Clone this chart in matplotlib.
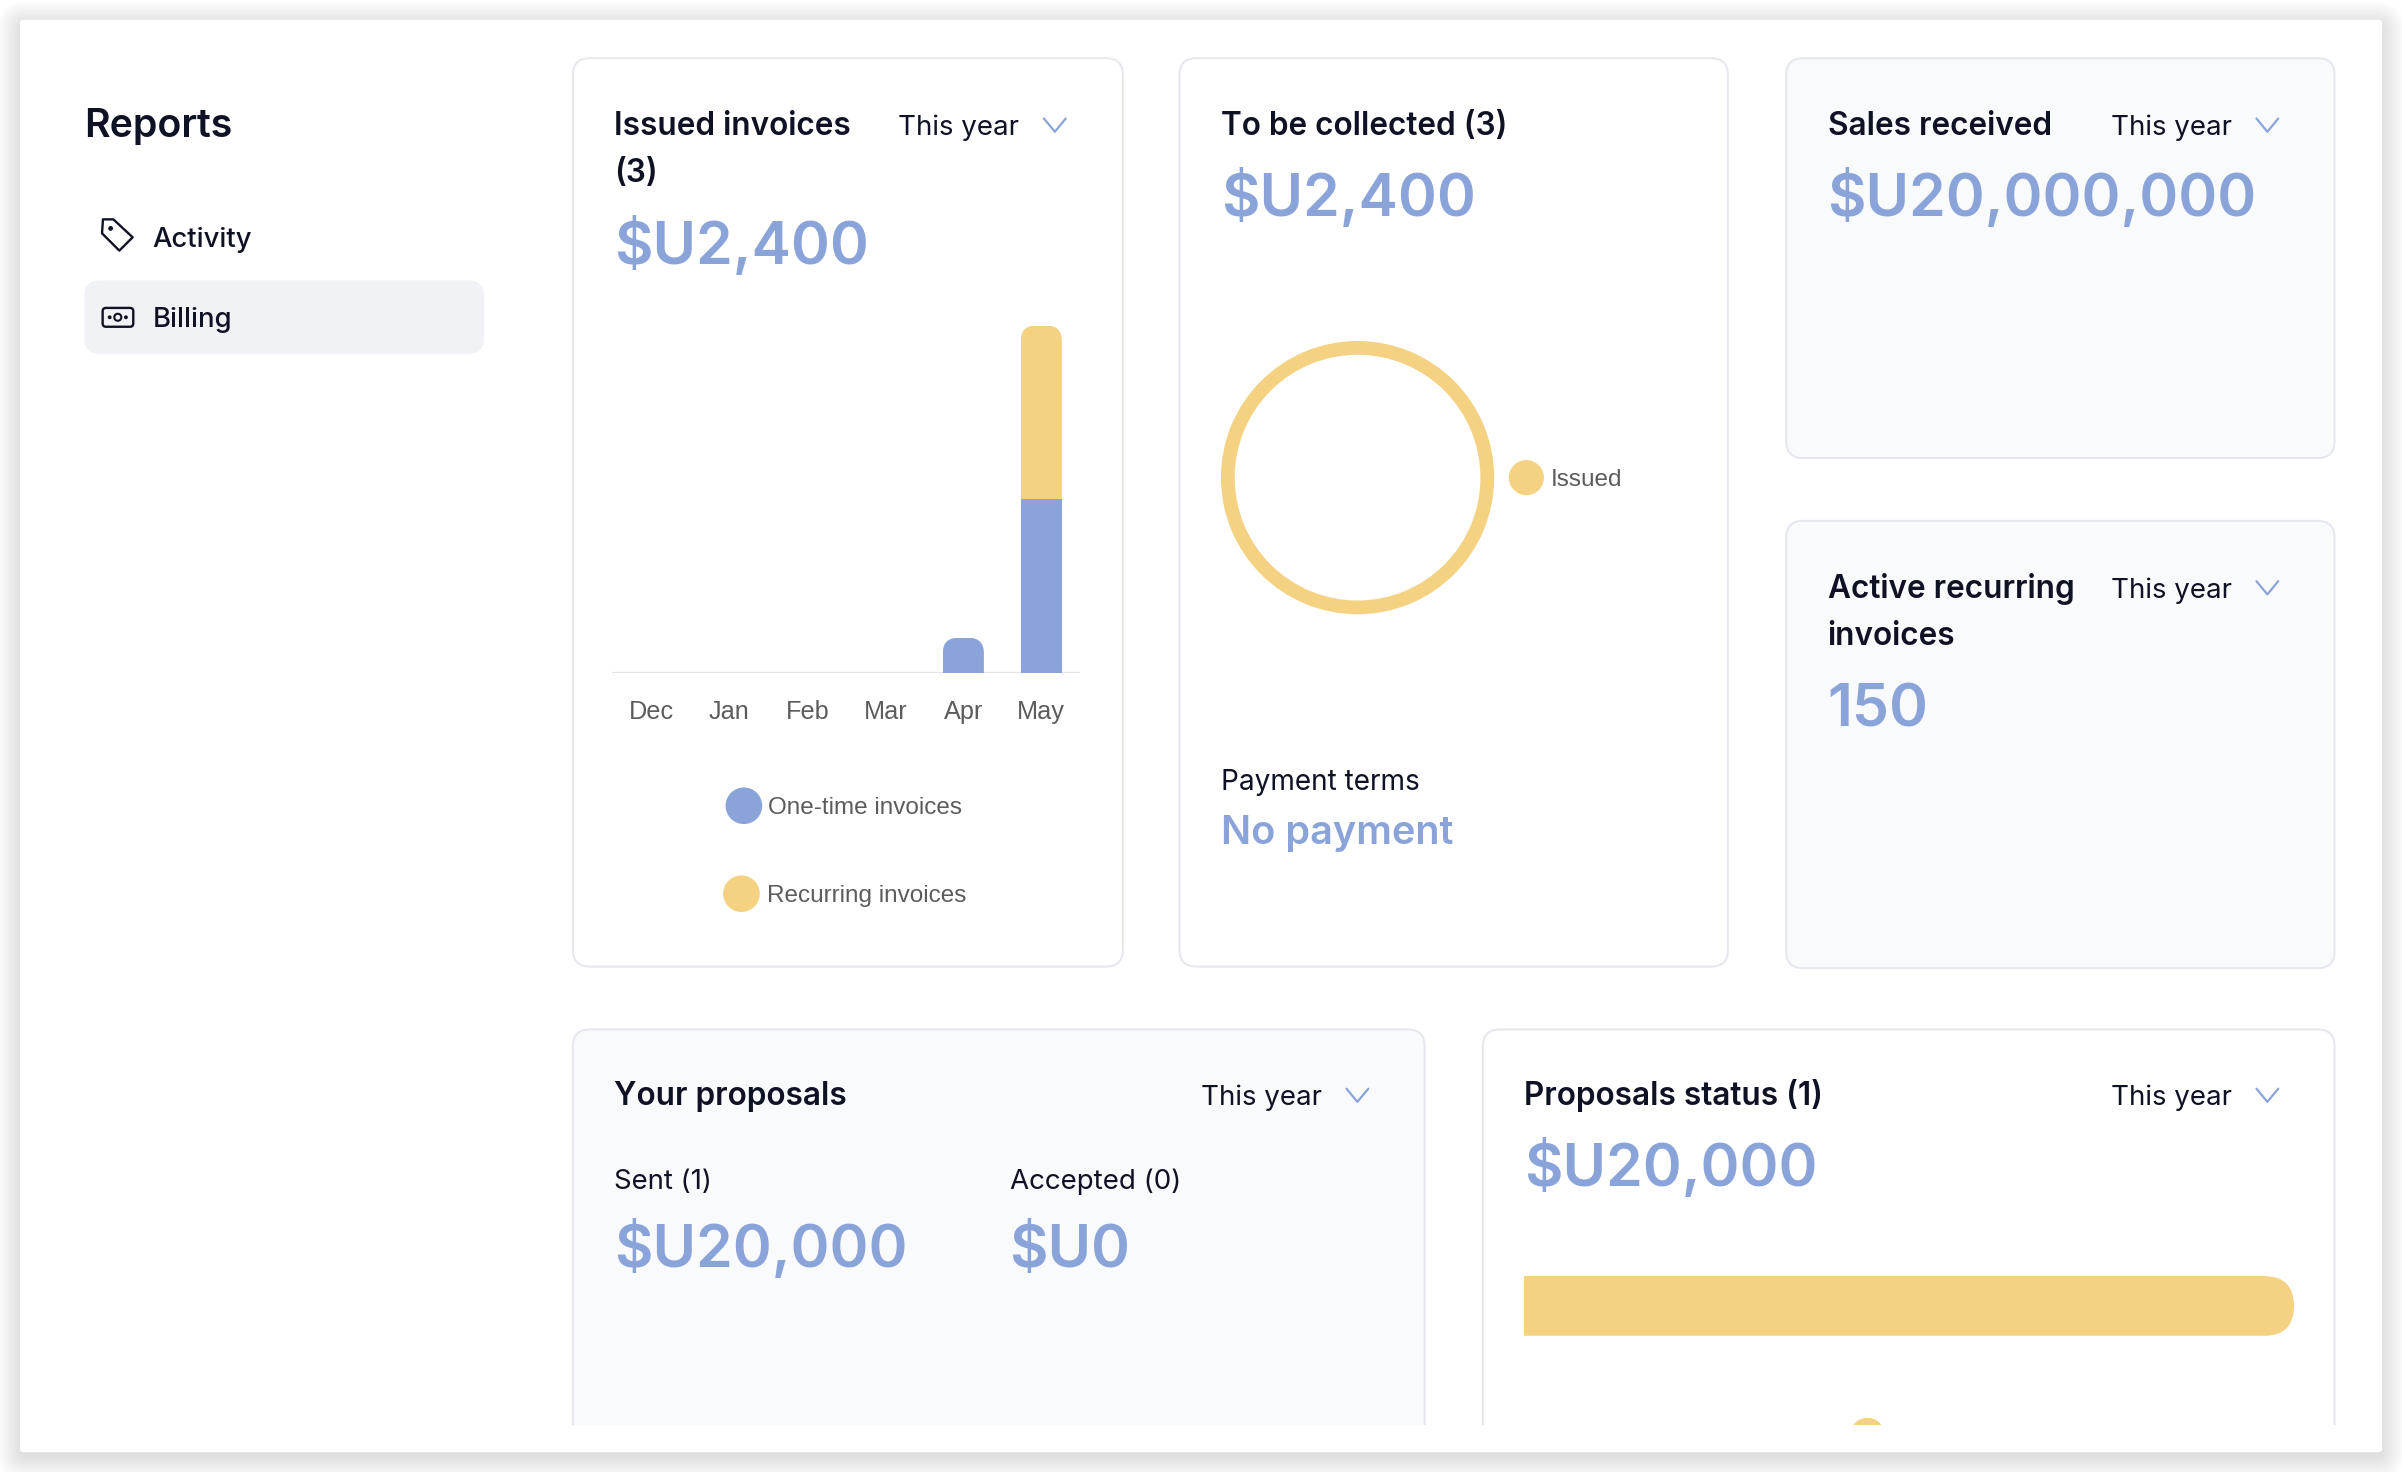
import numpy as np
import matplotlib
matplotlib.use("Agg")
import matplotlib.pyplot as plt
from matplotlib.patches import FancyBboxPatch, Rectangle, Circle, Polygon

# chart data
months = ["Dec", "Jan", "Feb", "Mar", "Apr", "May"]
one_time = [0, 0, 0, 0, 220, 1090]
recurring = [0, 0, 0, 0, 0, 1090]
bar_legend = ["One-time invoices", "Recurring invoices"]

collect_labels = ["Issued"]
collect_values = [3]

status_labels = ["Sent"]
status_values = [20000]

BLUE = "#8aa4da"
YELLOW = "#f4d282"
DARK = "#0f1124"
GREY = "#5c5c5c"
LINE = "#e6e7ee"
SOFT = "#f9fafc"

# layout is worked out on a 1568 wide grid, scaled to the 2402 px output
W = 1568.0
S = 2402 / W
H = 1472 / S

fig = plt.figure(figsize=(24.02, 14.72), dpi=100)
fig.patch.set_facecolor("white")
bg = fig.add_axes([0, 0, 1, 1])
bg.set_xlim(0, W)
bg.set_ylim(H, 0)
bg.axis("off")
renderer = fig.canvas.get_renderer()


def frac(x0, y0, x1, y1):
    return [x0 / W, 1 - y1 / H, (x1 - x0) / W, (y1 - y0) / H]


def box(x0, y0, x1, y1, r, fc, ec="none", lw=0, z=1, clip=None):
    p = FancyBboxPatch((x0, y0), x1 - x0, y1 - y0,
                       boxstyle=f"round,pad=0,rounding_size={r}",
                       fc=fc, ec=ec, lw=lw, zorder=z)
    bg.add_patch(p)
    if clip is not None:
        p.set_clip_path(clip)
    return p


def put(x, y, s, w=None, weight="normal", color=DARK, family="Inter", size=20):
    t = bg.text(x, y, s, fontsize=size, fontweight=weight, color=color,
                family=family, ha="left", va="baseline", zorder=5)
    if w:
        bw = t.get_window_extent(renderer).width
        t.set_fontsize(size * w * S / bw)
    return t


def chev(x, yc):
    bg.plot([x, x + 7.1, x + 14.2], [yc - 4.3, yc + 4.3, yc - 4.3], color=BLUE,
            lw=1.6, solid_capstyle="round", solid_joinstyle="round", zorder=5)


# page shadow and main sheet
for k in range(16):
    box(13 - k, 13 - k + 3, 1555 + k, 948 + k + 3, 4 + k, (0, 0, 0, 0.006), z=0)
box(13, 13, 1555, 948, 2, "white", z=0.5)

bottom_clip = Rectangle((0, 0), W, 930, transform=bg.transData)

cards = [(374, 38, 733, 631, "white"), (770, 38, 1128, 631, "white"),
         (1166, 38, 1524, 299, SOFT), (1166, 340, 1524, 632, SOFT),
         (374, 672, 930, 990, SOFT), (968, 672, 1524, 990, "white")]
for x0, y0, x1, y1, fc in cards:
    box(x0, y0, x1, y1, 11, fc, ec=LINE, lw=1.4, z=1,
        clip=bottom_clip if y0 > 600 else None)

# sidebar
box(55, 183, 316, 231, 10, "#f1f2f6")
put(55, 89.3, "Reports", 97, weight="semibold")
side = put(99.6, 161.3, "Activity", 65, weight="medium")
put(99.6, 213.4, "Billing", size=side.get_fontsize(), weight="medium")
tag = Polygon([(67.2, 143.2), (74.0, 143.2), (86.6, 154.9), (77.9, 163.6), (66.6, 152.3)],
              closed=True, fill=False, ec=DARK, lw=1.7, joinstyle="round", zorder=5)
bg.add_patch(tag)
bg.add_patch(Circle((72.2, 149.1), 1.1, color=DARK, zorder=5))
box(67, 201, 87, 213.3, 2.2, "none", ec=DARK, lw=1.7, z=5)
bg.add_patch(Circle((76.9, 207.1), 2.3, fill=False, ec=DARK, lw=1.5, zorder=5))
bg.add_patch(Circle((71.6, 207.1), 0.8, color=DARK, zorder=5))
bg.add_patch(Circle((82.2, 207.1), 0.8, color=DARK, zorder=5))

# card 1: issued invoices
t1 = put(401, 88.4, "Issued invoices", 155, weight="semibold")
TS = t1.get_fontsize()
put(401, 118.5, "(3)", size=TS, weight="semibold")
ty = put(586.5, 88.4, "This year", 79)
YS = ty.get_fontsize()
chev(681.5, 81.7)
big = put(401, 172.3, "$U2,400", 166, weight="semibold", color=BLUE)
BS = big.get_fontsize()

cax = fig.add_axes(frac(399.8, 200, 705.2, 439.2))
tmax = max(a + b for a, b in zip(one_time, recurring))
cax.set_ylim(0, tmax * (439.2 - 200) / (439.2 - 212.5))
cax.set_xlim(-0.5, len(months) - 0.5)
cax.patch.set_alpha(0)
for sp in cax.spines.values():
    sp.set_visible(False)
cax.set_yticks([])
xs = np.arange(len(months))
bw = 0.527
b1 = cax.bar(xs, one_time, bw, color=BLUE, zorder=2)
b2 = cax.bar(xs, recurring, bw, bottom=one_time, color=YELLOW, zorder=2)
cax.axhline(0, color="#e3e4e8", lw=1.7, zorder=1)
ext = cax.get_window_extent(renderer)
ppx = ext.width / (len(months))
ppy = ext.height / cax.get_ylim()[1]
r = 10 * S
for i in xs:
    seg = b2[i] if recurring[i] > 0 else b1[i]
    if seg.get_height() <= 0:
        continue
    ry = r / ppy
    clip = FancyBboxPatch((seg.get_x(), seg.get_y() - ry), bw, seg.get_height() + ry,
                          boxstyle=f"round,pad=0,rounding_size={r / ppx}",
                          mutation_aspect=ppx / ppy, transform=cax.transData)
    seg.set_clip_path(clip)

leg1 = put(501.5, 531.5, bar_legend[0], 126.5, family="Liberation Sans", color=GREY)
LS = leg1.get_fontsize()
put(500.7, 589, bar_legend[1], size=LS, family="Liberation Sans", color=GREY)
bg.add_patch(Circle((485.6, 526), 11.5, color=BLUE, zorder=5))
bg.add_patch(Circle((484, 583.4), 11.5, color=YELLOW, zorder=5))

em = LS * 100 / 72 / S
pad = (468.3 - 0.73 * em - 439.2) * S * 0.72
cax.set_xticks(xs, months, fontfamily="Liberation Sans")
cax.tick_params(axis="x", length=0, pad=pad, labelsize=LS * 1.04, labelcolor=GREY)

# card 2: to be collected
put(797, 88.4, "To be collected (3)", size=TS, weight="semibold")
put(797, 141, "$U2,400", size=BS, weight="semibold", color=BLUE)
dax = fig.add_axes(frac(886.2 - 89.2, 311.8 - 89.2, 886.2 + 89.2, 311.8 + 89.2))
dax.pie(collect_values, colors=[YELLOW], radius=1, startangle=90,
        wedgeprops=dict(width=9 / 89.2, linewidth=0))
dax.set_xlim(-1, 1)
dax.set_ylim(-1, 1)
bg.add_patch(Circle((996.4, 311.8), 11.0, color=YELLOW, zorder=5))
put(1012.2, 317.4, collect_labels[0], size=LS, family="Liberation Sans", color=GREY)
put(797, 516, "Payment terms", 130)
put(797, 551, "No payment", 152, weight="semibold", color=BLUE)

# card 3: sales received
put(1193, 88.4, "Sales received", size=TS, weight="semibold")
put(1378, 88.4, "This year", size=YS)
chev(1473, 81.7)
put(1193, 141, "$U20,000,000", size=BS, weight="semibold", color=BLUE)

# card 4: active recurring invoices
put(1193, 390.4, "Active recurring", size=TS, weight="semibold")
put(1193, 421, "invoices", size=TS, weight="semibold")
put(1378, 390.4, "This year", size=YS)
chev(1473, 383.7)
put(1193, 474, "150", size=BS, weight="semibold", color=BLUE)

# card 5: your proposals
put(401, 721.4, "Your proposals", size=TS, weight="semibold")
put(784, 721.4, "This year", size=YS)
chev(879, 715)
put(401, 776, "Sent (1)", 64)
put(659, 776, "Accepted (0)", 112)
put(401, 827, "$U20,000", size=BS, weight="semibold", color=BLUE)
put(659, 827, "$U0", size=BS, weight="semibold", color=BLUE)

# card 6: proposals status
put(995, 721.4, "Proposals status (1)", size=TS, weight="semibold")
put(1378, 721.4, "This year", size=YS)
chev(1473, 715)
put(995, 774, "$U20,000", size=BS, weight="semibold", color=BLUE)

sax = fig.add_axes(frac(995, 833, 1497.5, 872))
sax.axis("off")
sbar = sax.barh([0], status_values, height=1, color=YELLOW)
sax.set_xlim(0, max(status_values))
sax.set_ylim(-0.5, 0.5)
sext = sax.get_window_extent(renderer)
sppx = sext.width / max(status_values)
sppy = sext.height
rr = 19.5 * S
for p in sbar:
    rx = rr / sppx
    clip = FancyBboxPatch((p.get_x() - rx, p.get_y()), p.get_width() + rx, p.get_height(),
                          boxstyle=f"round,pad=0,rounding_size={rx}",
                          mutation_aspect=sppx / sppy, transform=sax.transData)
    p.set_clip_path(clip)
dot = Circle((1219, 937), 11, color=YELLOW, zorder=5)
bg.add_patch(dot)
dot.set_clip_path(bottom_clip)

fig.savefig("out.png", dpi=100, facecolor="white")
